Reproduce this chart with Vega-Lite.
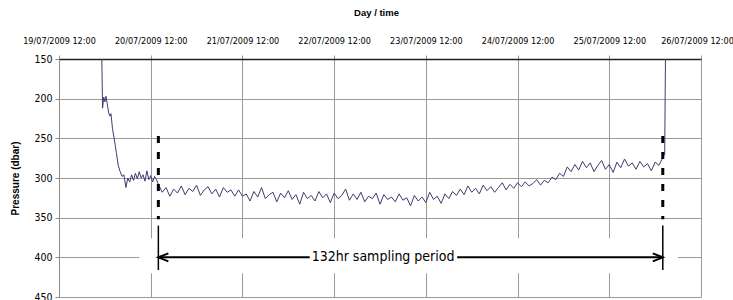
{
  "$schema": "https://vega.github.io/schema/vega-lite/v6.json",
  "width": 642,
  "height": 238,
  "autosize": "none",
  "padding": {"left": 59, "top": 59, "right": 32, "bottom": 3},
  "background": "white",
  "config": {"view": {"stroke": null}},
  "datasets": {
    "trace": [
      {"h": 11.2, "p": 150}, {"h": 11.4, "p": 212}, {"h": 11.7, "p": 198}, {"h": 12.0, "p": 204}, {"h": 12.3, "p": 197},
      {"h": 12.6, "p": 206}, {"h": 13.0, "p": 218}, {"h": 13.3, "p": 222}, {"h": 13.6, "p": 219}, {"h": 14.0, "p": 238},
      {"h": 14.5, "p": 252}, {"h": 15.0, "p": 268}, {"h": 15.5, "p": 284}, {"h": 16.0, "p": 292}, {"h": 16.5, "p": 298},
      {"h": 17.0, "p": 296}, {"h": 17.5, "p": 312}, {"h": 18.0, "p": 300}, {"h": 18.5, "p": 305}, {"h": 19.0, "p": 296},
      {"h": 19.5, "p": 303}, {"h": 20.0, "p": 294}, {"h": 20.5, "p": 301}, {"h": 21.0, "p": 292}, {"h": 21.5, "p": 300},
      {"h": 22.0, "p": 296}, {"h": 22.5, "p": 304}, {"h": 23.0, "p": 291}, {"h": 23.5, "p": 302}, {"h": 24.0, "p": 297},
      {"h": 24.5, "p": 305}, {"h": 25.0, "p": 298}, {"h": 25.5, "p": 302}, {"h": 26, "p": 308},
      {"h": 27, "p": 318}, {"h": 28, "p": 312}, {"h": 29, "p": 323}, {"h": 30, "p": 314}, {"h": 31, "p": 319},
      {"h": 32, "p": 310}, {"h": 33, "p": 321}, {"h": 34, "p": 313}, {"h": 35, "p": 317}, {"h": 36, "p": 309},
      {"h": 37, "p": 322}, {"h": 38, "p": 315}, {"h": 39, "p": 311}, {"h": 40, "p": 320}, {"h": 41, "p": 314},
      {"h": 42, "p": 324}, {"h": 43, "p": 312}, {"h": 44, "p": 318}, {"h": 45, "p": 315}, {"h": 46, "p": 323},
      {"h": 47, "p": 315}, {"h": 48, "p": 323}, {"h": 49, "p": 320}, {"h": 50, "p": 329}, {"h": 51, "p": 317},
      {"h": 52, "p": 324}, {"h": 53, "p": 312}, {"h": 54, "p": 326}, {"h": 55, "p": 321}, {"h": 56, "p": 318},
      {"h": 57, "p": 330}, {"h": 58, "p": 319}, {"h": 59, "p": 325}, {"h": 60, "p": 316}, {"h": 61, "p": 327},
      {"h": 62, "p": 321}, {"h": 63, "p": 333}, {"h": 64, "p": 318}, {"h": 65, "p": 326}, {"h": 66, "p": 322},
      {"h": 67, "p": 329}, {"h": 68, "p": 317}, {"h": 69, "p": 325}, {"h": 70, "p": 320}, {"h": 71, "p": 331},
      {"h": 72, "p": 319}, {"h": 73, "p": 326}, {"h": 74, "p": 322}, {"h": 75, "p": 314}, {"h": 76, "p": 328},
      {"h": 77, "p": 320}, {"h": 78, "p": 327}, {"h": 79, "p": 318}, {"h": 80, "p": 330}, {"h": 81, "p": 323},
      {"h": 82, "p": 326}, {"h": 83, "p": 319}, {"h": 84, "p": 333}, {"h": 85, "p": 321}, {"h": 86, "p": 327},
      {"h": 87, "p": 324}, {"h": 88, "p": 330}, {"h": 89, "p": 320}, {"h": 90, "p": 328}, {"h": 91, "p": 325},
      {"h": 92, "p": 335}, {"h": 93, "p": 322}, {"h": 94, "p": 329}, {"h": 95, "p": 324}, {"h": 96, "p": 331},
      {"h": 97, "p": 318}, {"h": 98, "p": 327}, {"h": 99, "p": 323}, {"h": 100, "p": 332}, {"h": 101, "p": 320},
      {"h": 102, "p": 326}, {"h": 103, "p": 317}, {"h": 104, "p": 322}, {"h": 105, "p": 314}, {"h": 106, "p": 321},
      {"h": 107, "p": 310}, {"h": 108, "p": 318}, {"h": 109, "p": 313}, {"h": 110, "p": 320}, {"h": 111, "p": 309},
      {"h": 112, "p": 316}, {"h": 113, "p": 311}, {"h": 114, "p": 318}, {"h": 115, "p": 312}, {"h": 116, "p": 306},
      {"h": 117, "p": 315}, {"h": 118, "p": 308}, {"h": 119, "p": 313}, {"h": 120, "p": 306}, {"h": 121, "p": 311},
      {"h": 122, "p": 305}, {"h": 123, "p": 310}, {"h": 124, "p": 307}, {"h": 125, "p": 302}, {"h": 126, "p": 309},
      {"h": 127, "p": 303}, {"h": 128, "p": 306}, {"h": 129, "p": 299}, {"h": 130, "p": 302}, {"h": 131, "p": 294},
      {"h": 132, "p": 298}, {"h": 133, "p": 286}, {"h": 134, "p": 292}, {"h": 135, "p": 283}, {"h": 136, "p": 290},
      {"h": 137, "p": 279}, {"h": 138, "p": 287}, {"h": 139, "p": 281}, {"h": 140, "p": 292}, {"h": 141, "p": 284},
      {"h": 142, "p": 278}, {"h": 143, "p": 289}, {"h": 144, "p": 283}, {"h": 145, "p": 293}, {"h": 146, "p": 280},
      {"h": 147, "p": 287}, {"h": 148, "p": 276}, {"h": 149, "p": 285}, {"h": 150, "p": 281}, {"h": 151, "p": 289},
      {"h": 152, "p": 279}, {"h": 153, "p": 286}, {"h": 154, "p": 282}, {"h": 155, "p": 291}, {"h": 156, "p": 280},
      {"h": 157, "p": 284}, {"h": 158, "p": 274}, {"h": 158.5, "p": 270}, {"h": 158.7, "p": 150}
    ],
    "box": [{"h": 21, "h2": 162, "p": 376, "p2": 420}],
    "dashes": [{"h": 26, "p": 247, "p2": 352}, {"h": 158, "p": 247, "p2": 352}],
    "solids": [{"h": 26, "p": 360, "p2": 416}, {"h": 158, "p": 360, "p2": 416}],
    "arrow": [{"h": 26, "h2": 65.6, "p": 400}, {"h": 104.2, "h2": 158, "p": 400}],
    "left": [{"h": 26, "p": 400}],
    "right": [{"h": 158, "p": 400}],
    "label": [{"h": 84.8, "p": 400, "text": "132hr sampling period"}]
  },
  "encoding": {
    "x": {
      "field": "h", "type": "quantitative",
      "scale": {"domain": [0, 168], "nice": false, "zero": false},
      "axis": {
        "orient": "top", "title": "Day / time",
        "values": [0, 24, 48, 72, 96, 120, 144, 168],
        "labelExpr": "timeFormat(datetime(2009, 6, 19, 12 + datum.value, 0), '%d/%m/%Y %H:%M')",
        "grid": true, "gridColor": "#9a9a9a", "gridWidth": 1,
        "domainColor": "#222222", "domainWidth": 1.5,
        "tickColor": "#9a9a9a", "tickSize": 4,
        "labelPadding": 10, "labelFontSize": 9, "labelColor": "#000000",
        "labelFont": "DejaVu Sans Condensed, sans-serif",
        "labelFlush": false, "labelOverlap": false,
        "labelOffset": {"condition": {"test": "datum.value == 168", "value": -4}, "value": 0},
        "titleFont": "Liberation Sans, Arial, sans-serif", "titleFontWeight": "bold", "titleFontSize": 9.5,
        "titleColor": "#000000",
        "titleX": 317, "titleY": -47, "titleBaseline": "middle", "titleAlign": "center"
      }
    },
    "y": {
      "field": "p", "type": "quantitative",
      "scale": {"domain": [150, 450], "reverse": true, "nice": false, "zero": false},
      "axis": {
        "values": [150, 200, 250, 300, 350, 400, 450],
        "title": "Pressure (dbar)",
        "grid": true, "gridColor": "#9a9a9a", "gridWidth": 1,
        "domainColor": "#888888", "tickColor": "#888888", "tickSize": 4,
        "labelPadding": 3, "labelFontSize": 10.5, "labelColor": "#000000",
        "labelFont": "DejaVu Sans Condensed, sans-serif",
        "labelFlush": false, "labelOverlap": false,
        "titleFont": "Liberation Sans, Arial, sans-serif", "titleFontWeight": "bold", "titleFontSize": 10,
        "titleColor": "#000000",
        "titleX": -44, "titleY": 119, "titleAngle": 270, "titleBaseline": "middle", "titleAlign": "center"
      }
    }
  },
  "layer": [
    {
      "data": {"name": "trace"},
      "mark": {"type": "line", "color": "#3d3d70", "strokeWidth": 1, "clip": true, "interpolate": "linear"}
    },
    {
      "data": {"name": "box"},
      "mark": {"type": "rect", "color": "white"},
      "encoding": {"x2": {"field": "h2"}, "y2": {"field": "p2"}}
    },
    {
      "data": {"name": "dashes"},
      "mark": {"type": "rule", "color": "#000000", "strokeWidth": 3, "strokeDash": [7, 9]},
      "encoding": {"y2": {"field": "p2"}}
    },
    {
      "data": {"name": "solids"},
      "mark": {"type": "rule", "color": "#000000", "strokeWidth": 1.5},
      "encoding": {"y2": {"field": "p2"}}
    },
    {
      "data": {"name": "arrow"},
      "mark": {"type": "rule", "color": "#000000", "strokeWidth": 2},
      "encoding": {"x2": {"field": "h2"}}
    },
    {
      "data": {"name": "left"},
      "mark": {"type": "point", "shape": "M2,-0.8L0,0L2,0.8", "filled": false, "stroke": "#000000", "strokeWidth": 2, "size": 100, "opacity": 1}
    },
    {
      "data": {"name": "right"},
      "mark": {"type": "point", "shape": "M-2,-0.8L0,0L-2,0.8", "filled": false, "stroke": "#000000", "strokeWidth": 2, "size": 100, "opacity": 1}
    },
    {
      "data": {"name": "label"},
      "mark": {"type": "text", "font": "DejaVu Sans Condensed, sans-serif", "fontSize": 14, "color": "#000000", "align": "center", "baseline": "middle"},
      "encoding": {"text": {"field": "text"}}
    }
  ]
}
